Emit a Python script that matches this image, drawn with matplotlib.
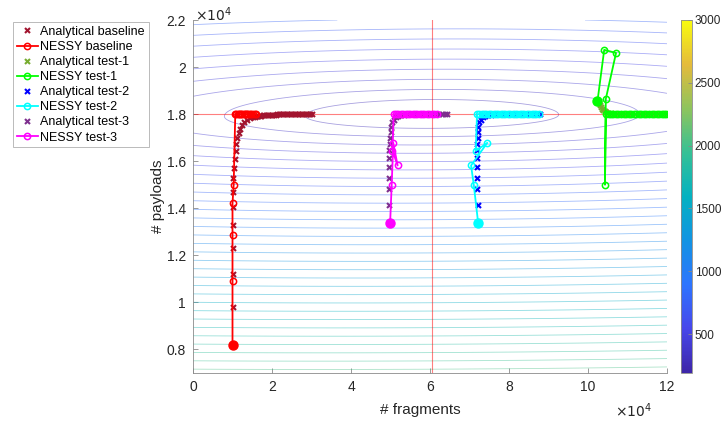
import numpy as np
import matplotlib
matplotlib.use("Agg")
from matplotlib import pyplot as plt
from matplotlib.colors import LinearSegmentedColormap, Normalize
from matplotlib.cm import ScalarMappable
from matplotlib.ticker import FuncFormatter

plt.rcParams["font.family"] = ["Liberation Sans", "DejaVu Sans"]

# Trajectories in the (# fragments, # payloads) plane
ANALYTICAL_BASELINE_X = [10000, 10030, 10040, 10050, 10060, 10080, 10100, 10200, 10350, 10550,
                         10800, 11000, 11250, 11550, 11900, 12350, 12900, 13600, 14400,
                         15300, 15700, 16100, 16500, 16900, 17300, 17700, 18100, 18500, 18900,
                         19300, 19700, 20100, 20500, 20900, 21300, 21700, 22100, 22500, 22900,
                         23300, 23700, 24100, 24500, 24900, 25300, 25700, 26100, 26500, 26900,
                         27300, 27700, 28100, 28500, 28900, 29300, 29700, 30000]
ANALYTICAL_BASELINE_Y = [8180, 9820, 11210, 12330, 13290, 14060, 14710, 15300, 15730, 16100,
                         16420, 16720, 16980, 17200, 17380, 17540, 17660, 17750, 17820,
                         17870, 17890, 17905, 17918, 17930, 17940, 17948, 17955, 17961, 17966,
                         17970, 17974, 17977, 17980, 17983, 17985, 17987, 17989, 17991, 17992,
                         17993, 17994, 17995, 17996, 17997, 17997, 17998, 17998, 17999, 17999,
                         17999, 18000, 18000, 18000, 18000, 18000, 18000, 18000]

NESSY_BASELINE_X = [10000, 10000, 10000, 10000, 10300, 10700, 11000, 11300, 11600, 11900, 12200,
                    12500, 12800, 13100, 13400, 13700, 14000, 14400, 14800, 15200, 15600, 16000]
NESSY_BASELINE_Y = [8180, 10910, 12880, 14220, 15000, 18000, 17990, 18000, 18000, 18000, 17990,
                    18000, 18000, 18000, 18000, 18000, 18000, 18000, 18000, 18000, 18000, 18000]

ANALYTICAL_TEST1_X = [102400, 102700, 103000, 103300, 103600, 103900, 104200, 104600, 105100, 105700,
                      106400, 107200, 108100, 109000, 110000, 111000, 112000, 113000, 114000, 115000,
                      116000, 117000, 118000, 119000, 119800]
ANALYTICAL_TEST1_Y = [18550, 18460, 18380, 18300, 18230, 18170, 18120, 18080, 18050, 18030,
                      18015, 18008, 18004, 18002, 18000, 18000, 18000, 18000, 18000, 18000,
                      18000, 18000, 18000, 18000, 18000]

NESSY_TEST1_X = [102400, 104100, 107100, 104500, 104300, 104500, 105200, 105800, 106400, 107000,
                 107700, 108300, 109000, 109600, 110300, 110900, 111600, 112200, 112900, 113500,
                 114200, 114800, 115500, 116100, 116800, 117400, 118100, 118700, 119300, 119800]
NESSY_TEST1_Y = [18550, 20730, 20600, 18640, 15000, 18000, 18000, 18000, 18000, 18000,
                 18000, 18000, 18000, 18000, 18000, 18000, 18000, 18000, 18000, 18000,
                 18000, 18000, 18000, 18000, 18000, 18000, 18000, 18000, 18000, 18000]

ANALYTICAL_TEST2_X = [72200, 72200, 72000, 72000, 72000, 72000, 72000, 72000, 72050, 72100,
                      72250, 72500, 72900, 73400, 74000, 74700, 75500, 76300, 77200, 78100,
                      79000, 79900, 80800, 81700, 82600, 83500, 84400, 85300, 86200, 87100, 87800]
ANALYTICAL_TEST2_Y = [13360, 14150, 14800, 15300, 15770, 16140, 16460, 16750, 17000, 17250,
                      17460, 17650, 17770, 17860, 17920, 17955, 17975, 17987, 17993, 17996,
                      17998, 17999, 18000, 18000, 18000, 18000, 18000, 18000, 18000, 18000, 18000]

NESSY_TEST2_X = [72200, 71100, 70400, 74500, 71600, 71900, 72500, 73100, 73700, 74300, 74900,
                 75500, 76100, 76700, 77300, 77900, 78500, 79100, 79700, 80300, 80900, 81500,
                 82100, 82700, 83300, 83900, 84500, 85100, 85700, 86300, 86900, 87500]
NESSY_TEST2_Y = [13360, 14970, 15820, 16780, 16440, 18000, 18000, 18000, 18000, 18000, 18000,
                 18000, 18000, 18000, 18000, 18000, 18000, 18000, 18000, 18000, 18000, 18000,
                 18000, 18000, 18000, 18000, 18000, 18000, 18000, 18000, 18000, 18000]

ANALYTICAL_TEST3_X = [49900, 49700, 49700, 49700, 49700, 49700, 49700, 49750, 49850, 50000,
                      50200, 50500, 50900, 51400, 52000, 52700, 53500, 54300, 55100, 55900,
                      56700, 57500, 58300, 59100, 59900, 60700, 61500, 62300, 63100, 63800, 64200]
ANALYTICAL_TEST3_Y = [13360, 14150, 14800, 15300, 15770, 16140, 16460, 16750, 17000, 17250,
                      17460, 17650, 17770, 17860, 17920, 17955, 17975, 17987, 17993, 17996,
                      17998, 17999, 18000, 18000, 18000, 18000, 18000, 18000, 18000, 18000, 18000]

NESSY_TEST3_X = [49900, 50300, 50700, 51800, 50500, 50800, 51400, 52000, 52600, 53200, 53800, 54400,
                 55000, 55600, 56200, 56800, 57400, 58000, 58600, 59200, 59800, 60400, 61000, 61700]
NESSY_TEST3_Y = [13360, 15000, 16780, 15820, 16440, 18000, 18000, 18000, 18000, 18000, 18000, 18000,
                 18000, 18000, 18000, 18000, 18000, 18000, 18000, 18000, 18000, 18000, 18000, 18000]

# optimum marked by the red cross-hair
OPT_FRAGMENTS = 60500
OPT_PAYLOADS = 18000

COLORBAR_TICKS = [500, 1000, 1500, 2000, 2500, 3000]
COST_RANGE = (190, 3000)
CONTOUR_LEVELS = np.arange(284, 3000, 60)

# parula-like colormap
PARULA = LinearSegmentedColormap.from_list("parula", [
    (0.2422, 0.1504, 0.6603), (0.2803, 0.2782, 0.9221), (0.1786, 0.4567, 0.9979),
    (0.0704, 0.5787, 0.8880), (0.0165, 0.6963, 0.7556), (0.2087, 0.7537, 0.5870),
    (0.5563, 0.7682, 0.3627), (0.8946, 0.7323, 0.2346), (0.9763, 0.9831, 0.0538)])


def cost_surface(X, Y):
    # cone shaped cost around the optimum, a bit steeper below than above
    dx = X - OPT_FRAGMENTS
    dy = Y - 17950 - 0.0008 * dx
    slope_y = np.where(dy > 0, 0.14, 0.17)
    return COST_RANGE[0] + np.sqrt((slope_y * dy) ** 2 + (0.00293 * dx) ** 2)


fig = plt.figure(figsize=(7.22, 4.24), dpi=100)
ax = fig.add_axes([193 / 722, 51 / 424, 474 / 722, 353 / 424])

xs = np.linspace(0, 120000, 700)
ys = np.linspace(7000, 22000, 500)
GX, GY = np.meshgrid(xs, ys)
norm = Normalize(*COST_RANGE)
ax.contour(GX, GY, cost_surface(GX, GY), levels=CONTOUR_LEVELS, cmap=PARULA, norm=norm,
           linewidths=0.6, alpha=0.45)

ax.axhline(OPT_PAYLOADS, color="red", lw=0.8, alpha=0.5)
ax.axvline(OPT_FRAGMENTS, color="red", lw=0.8, alpha=0.5)

series = [
    ("baseline", ANALYTICAL_BASELINE_X, ANALYTICAL_BASELINE_Y, NESSY_BASELINE_X, NESSY_BASELINE_Y,
     (0.635, 0.078, 0.184), (1, 0, 0)),
    ("test-1", ANALYTICAL_TEST1_X, ANALYTICAL_TEST1_Y, NESSY_TEST1_X, NESSY_TEST1_Y,
     (0.466, 0.674, 0.188), (0, 1, 0)),
    ("test-2", ANALYTICAL_TEST2_X, ANALYTICAL_TEST2_Y, NESSY_TEST2_X, NESSY_TEST2_Y,
     (0, 0, 1), (0, 1, 1)),
    ("test-3", ANALYTICAL_TEST3_X, ANALYTICAL_TEST3_Y, NESSY_TEST3_X, NESSY_TEST3_Y,
     (0.494, 0.184, 0.556), (1, 0, 1)),
]
for name, ax_x, ax_y, ns_x, ns_y, c_an, c_ns in series:
    ax.plot(ax_x, ax_y, "x", color=c_an, ms=3.6, mew=1.5, label="Analytical {}".format(name))
    ax.plot(ns_x, ns_y, "-o", color=c_ns, lw=1.3, ms=4.5, mfc="none", mew=1.1,
            label="NESSY {}".format(name))
    ax.plot(ns_x[0], ns_y[0], "o", color=c_ns, ms=6.5)

ax.set_xlim(0, 120000)
ax.set_ylim(7000, 22000)
ax.set_xticks(np.arange(0, 120001, 20000))
ax.set_yticks(np.arange(8000, 22001, 2000))
scaled = FuncFormatter(lambda v, pos: "{:g}".format(round(v / 1e4, 2)))
ax.xaxis.set_major_formatter(scaled)
ax.yaxis.set_major_formatter(scaled)
for side in ("top", "right"):
    ax.spines[side].set_visible(False)
for side in ("left", "bottom"):
    ax.spines[side].set_color("#8a8a8a")
    ax.spines[side].set_linewidth(0.6)
ax.tick_params(direction="in", length=3.5, width=0.6, color="#8a8a8a", labelsize=10,
               labelcolor="#262626", pad=5)
ax.set_xlabel("# fragments", fontsize=11, color="#262626")
ax.set_ylabel("# payloads", fontsize=11, color="#262626")
ax.xaxis.set_label_coords(0.48, -0.085)
ax.yaxis.set_label_coords(-0.06, 0.5)
fig.text(195 / 722, 1 - 15 / 424, r"$\times10^4$", fontsize=10, color="#262626",
         ha="left", va="center")
fig.text(652 / 722, 1 - 411 / 424, r"$\times10^4$", fontsize=10, color="#262626",
         ha="right", va="center")

leg = ax.legend(loc="upper left", bbox_to_anchor=(13 / 722, 1 - 22 / 424),
                bbox_transform=fig.transFigure, borderaxespad=0, fontsize=9,
                handlelength=1.7, handletextpad=0.2, labelspacing=0.25, borderpad=0.3,
                fancybox=False, framealpha=1)
leg.get_frame().set_edgecolor("#b0b0b0")
leg.get_frame().set_linewidth(0.6)

cax = fig.add_axes([681 / 722, 51 / 424, 11 / 722, 353 / 424])
cb = fig.colorbar(ScalarMappable(norm=norm, cmap=PARULA), cax=cax)
cb.set_ticks(COLORBAR_TICKS)
cb.outline.set_edgecolor("#8a8a8a")
cb.outline.set_linewidth(0.6)
cax.tick_params(direction="in", length=3, width=0.6, color="#8a8a8a", labelsize=8.5,
                labelcolor="#262626", pad=2)

fig.savefig("out.png", dpi=100)
